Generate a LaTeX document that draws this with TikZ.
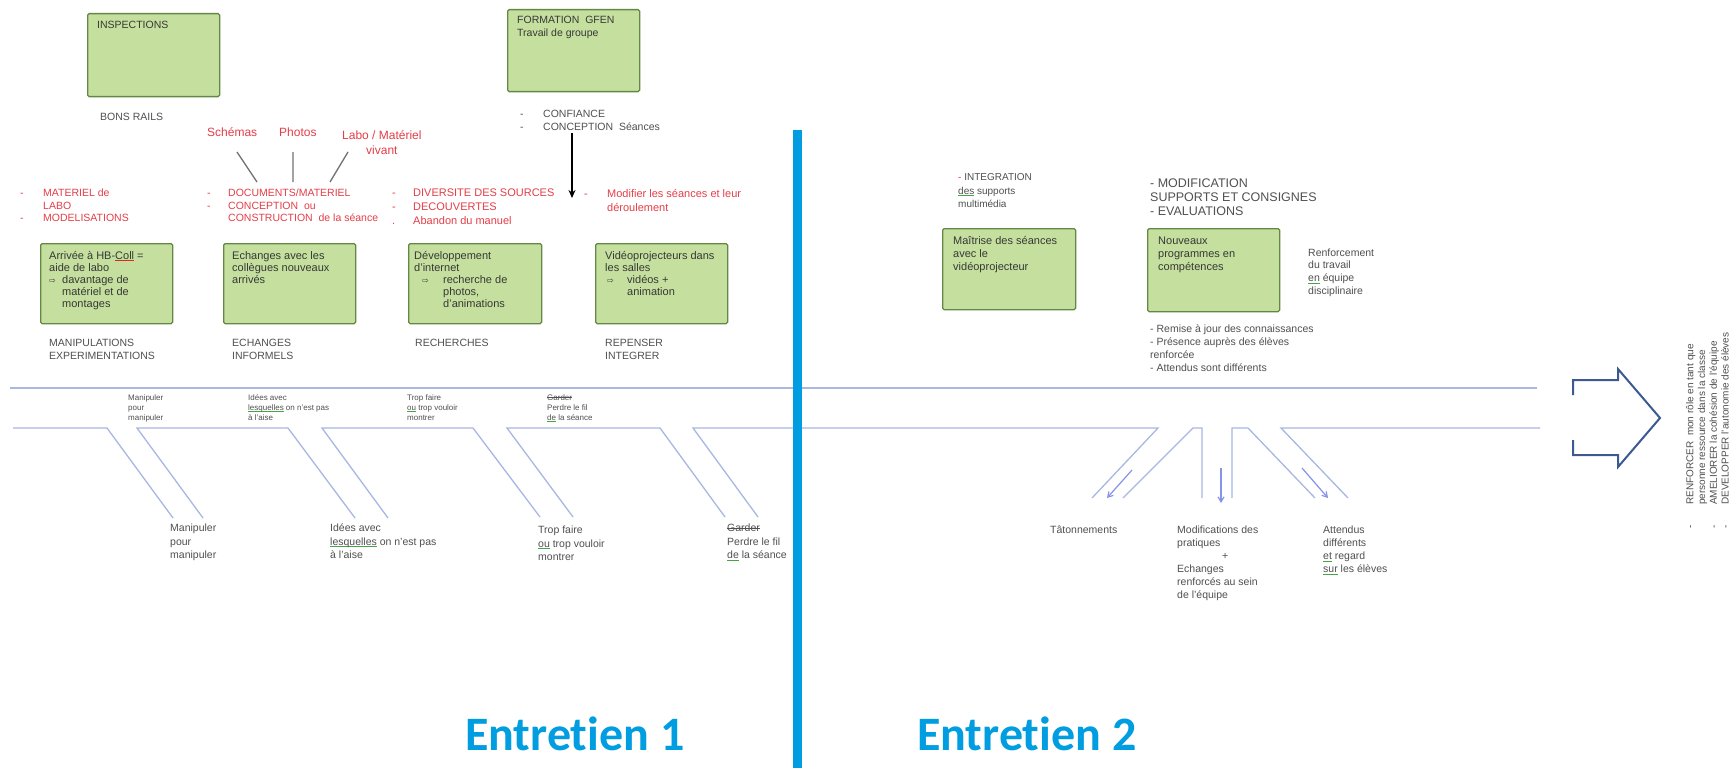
\documentclass[tikz,border=0pt]{standalone}
\usepackage{fontspec}
\setmainfont{Liberation Sans}
\newfontfamily\calib[Ligatures={NoCommon,NoContextual}]{Carlito}
\newfontfamily\djv{DejaVu Sans}
\usetikzlibrary{arrows.meta}
\definecolor{tdark}{RGB}{55,55,55}
\definecolor{tlab}{RGB}{80,80,80}
\definecolor{tred}{RGB}{228,62,72}
\definecolor{gfill}{RGB}{197,224,158}
\definecolor{gborder}{RGB}{100,135,70}
\definecolor{bone}{RGB}{168,184,226}
\definecolor{barrow}{RGB}{60,90,145}
\definecolor{cyanb}{RGB}{0,158,224}
\definecolor{ulgreen}{RGB}{70,165,70}
\definecolor{ulred}{RGB}{220,40,40}
\definecolor{conn}{RGB}{115,115,115}
\newcommand\fsz[2]{\fontsize{#1}{#2}\selectfont}
\newcommand\harr{{\djv\fontsize{8}{8}\selectfont ⇨}}
\newlength\strklen
\newcommand\gul[1]{\settowidth{\strklen}{#1}\rlap{\color{ulgreen}\rule[-0.17em]{\strklen}{0.7pt}}#1}
\newcommand\rul[1]{\settowidth{\strklen}{#1}\rlap{\color{ulred}\rule[-0.17em]{\strklen}{0.7pt}}#1}
\newcommand\strk[1]{\settowidth{\strklen}{#1}\rlap{\rule[0.3em]{\strklen}{0.6pt}}#1}
\begin{document}
\begin{tikzpicture}[x=1pt,y=-1pt,
  txt/.style={anchor=north west,inner sep=0pt,align=left,text=tdark},
  lab/.style={txt,text=tlab},
  redtxt/.style={txt,text=tred},
  gbox/.style={draw=gborder,fill=gfill,line width=1.3pt,rounded corners=1.5pt,inner sep=0pt,anchor=north west},
  bonel/.style={draw=bone,line width=1.3pt},
  smallarr/.style={draw=bone!80!blue,line width=1.2pt,-{Straight Barb[length=5pt,width=6pt]}},
  entre/.style={anchor=base west,inner sep=0pt,text=cyanb,font={\calib\bfseries\fontsize{48}{48}\selectfont}}
  ]
\useasboundingbox (0,0) rectangle (1733,768);
\fill[white] (0,0) rectangle (1733,768);

% ---------- green boxes ----------
\node[gbox,minimum width=132pt,minimum height=83pt] (bInsp) at (87,13) {};
\node[gbox,minimum width=132pt,minimum height=82pt] (bForm) at (507,9) {};
\node[gbox,minimum width=132pt,minimum height=80pt] (bArr) at (40,243) {};
\node[gbox,minimum width=132pt,minimum height=80pt] (bEch) at (223,243) {};
\node[gbox,minimum width=133pt,minimum height=80pt] (bDev) at (408,243) {};
\node[gbox,minimum width=132pt,minimum height=80pt] (bVid) at (595,243) {};
\node[gbox,minimum width=133pt,minimum height=81pt] (bMai) at (942,228) {};
\node[gbox,minimum width=132pt,minimum height=83pt] (bNouv) at (1147,228) {};

% ---------- box texts ----------
\node[txt,font=\fsz{10.5}{12.5}] (tInsp) at (97,20) {\strut INSPECTIONS};
\node[txt,font=\fsz{10.5}{13}] (tForm) at (517,14.7) {\strut FORMATION\ \ GFEN\\Travail de groupe};
\node[txt,font=\fsz{11}{12}] (tArr) at (49,250.6) {\strut Arrivée à HB-\rul{Coll} =\\aide de labo\\\makebox[13pt][l]{\harr}davantage de\\\hspace*{13pt}matériel et de\\\hspace*{13pt}montages};
\node[txt,font=\fsz{11}{12}] (tEch) at (232,250.6) {\strut Echanges avec les\\collègues nouveaux\\arrivés};
\node[txt,font=\fsz{11}{12}] (tDev) at (414,250.6) {\strut Développement\\d'internet\\\makebox[29pt][l]{\hspace*{8pt}\harr}recherche de\\\hspace*{29pt}photos,\\\hspace*{29pt}d'animations};
\node[txt,font=\fsz{11}{12}] (tVid) at (605,250.6) {\strut Vidéoprojecteurs dans\\les salles\\\makebox[22pt][l]{\hspace*{2pt}\harr}vidéos +\\\hspace*{22pt}animation};
\node[txt,font=\fsz{11}{13}] (tMai) at (953,235) {\strut Maîtrise des séances\\avec le\\vidéoprojecteur};
\node[txt,font=\fsz{11}{13}] (tNouv) at (1158,235) {\strut Nouveaux\\programmes en\\compétences};

% ---------- labels ----------
\node[lab,font=\fsz{10.5}{12.5}] (lBons) at (100,112) {\strut BONS RAILS};
\node[lab,font=\fsz{10.5}{12.5}] (lMan) at (49,338) {\strut MANIPULATIONS\\EXPERIMENTATIONS};
\node[lab,font=\fsz{10.5}{12.5}] (lEch) at (232,338) {\strut ECHANGES\\INFORMELS};
\node[lab,font=\fsz{10.5}{12.5}] (lRech) at (415,338) {\strut RECHERCHES};
\node[lab,font=\fsz{10.5}{12.5}] (lRep) at (605,338) {\strut REPENSER\\INTEGRER};
\node[lab,font=\fsz{10.5}{13}] (lConf) at (520,107.7) {\strut\makebox[23pt][l]{-}CONFIANCE\\\makebox[23pt][l]{-}CONCEPTION\ \ Séances};

% ---------- red texts ----------
\node[redtxt,font=\fsz{12}{15}] (sch) at (207,126) {\strut Schémas};
\node[redtxt,font=\fsz{12}{15}] (pho) at (279,126) {\strut Photos};
\node[redtxt,font=\fsz{12}{15},align=center] (labo) at (342,129) {\strut Labo / Matériel\\vivant};
\node[redtxt,font=\fsz{10.5}{12.5}] (l1) at (20,188) {\strut\makebox[23pt][l]{-}MATERIEL de\\\hspace*{23pt}LABO\\\makebox[23pt][l]{-}MODELISATIONS};
\node[redtxt,font=\fsz{10.5}{12.5}] (l2) at (207,188) {\strut\makebox[21pt][l]{-}DOCUMENTS/MATERIEL\\\makebox[21pt][l]{-}CONCEPTION\ \ ou\\\hspace*{21pt}CONSTRUCTION\ \ de la séance};
\node[redtxt,font=\fsz{11}{14}] (l3) at (392,186.5) {\strut\makebox[21pt][l]{-}DIVERSITE DES SOURCES\\\makebox[21pt][l]{-}DECOUVERTES\\\makebox[21pt][l]{.}Abandon du manuel};
\node[redtxt,font=\fsz{11}{14}] (l4) at (584,187) {\strut\makebox[23pt][l]{-}Modifier les séances et leur\\\hspace*{23pt}déroulement};

% connectors labels -> documents
\coordinate (c1a) at (237,152); \coordinate (c1b) at (257,182);
\coordinate (c2a) at (293,152); \coordinate (c2b) at (293,182);
\coordinate (c3a) at (348,152); \coordinate (c3b) at (330,182);
\draw[conn,line width=1.3pt] (c1a) -- (c1b) (c2a) -- (c2b) (c3a) -- (c3b);

% black arrow
\coordinate (ka) at (572,133); \coordinate (kb) at (572,198);
\draw[black,line width=1.6pt,-{Stealth[length=8pt,width=7pt]}] (ka) -- (kb);

% ---------- right-hand texts ----------
\node[lab,font=\fsz{10}{13.5}] (lInt) at (958,171) {\strut{\color{tred}-} INTEGRATION\\\gul{des} supports\\multimédia};
\node[lab,font=\fsz{12.5}{14}] (lMod) at (1150,177) {\strut - MODIFICATION\\SUPPORTS ET CONSIGNES\\- EVALUATIONS};
\node[lab,font=\fsz{10.5}{12.7}] (lRenf) at (1308,247) {\strut Renforcement\\du travail\\\gul{en} équipe\\disciplinaire};
\node[lab,font=\fsz{10.5}{13}] (lRem) at (1150,323) {\strut - Remise à jour des connaissances\\- Présence auprès des élèves\\renforcée\\- Attendus sont différents};

% ---------- fishbone ----------
\draw[bonel] (10,388) -- (1537,388);
\draw[bonel] (13,428) -- (107,428) -- (173,518);
\draw[bonel] (203,518) -- (137,428) -- (288,428) -- (355,518);
\draw[bonel] (388,518) -- (322,428) -- (473,428) -- (540,517);
\draw[bonel] (573,517) -- (507,428) -- (660,428) -- (725,517);
\draw[bonel] (758,517) -- (693,428) -- (1158,428) -- (1092,498);
\draw[bonel] (1123,498) -- (1193,428) -- (1202,428) -- (1202,498);
\draw[bonel] (1232,498) -- (1232,428) -- (1248,428) -- (1315,498);
\draw[bonel] (1348,498) -- (1281,428) -- (1540,428);
\coordinate (a1s) at (1132,470); \coordinate (a1e) at (1107,498);
\coordinate (a2s) at (1221,468); \coordinate (a2e) at (1221,503);
\coordinate (a3s) at (1302,468); \coordinate (a3e) at (1328,498);
\draw[smallarr] (a1s) -- (a1e);
\draw[smallarr] (a2s) -- (a2e);
\draw[smallarr] (a3s) -- (a3e);

% small labels between lines
\node[lab,font=\fsz{8}{10}] (s1) at (128,393) {\strut Manipuler\\pour\\manipuler};
\node[lab,font=\fsz{8}{10}] (s2) at (248,393) {\strut Idées avec\\\gul{lesquelles} on n'est pas\\à l'aise};
\node[lab,font=\fsz{8}{10}] (s3) at (407,393) {\strut Trop faire\\\gul{ou} trop vouloir\\montrer};
\node[lab,font=\fsz{8}{10}] (s4) at (547,393) {\strut\strk{Garder}\\Perdre le fil\\\gul{de} la séance};

% large labels under bones
\node[lab,font=\fsz{10.5}{13.5}] (b1) at (170,522) {\strut Manipuler\\pour\\manipuler};
\node[lab,font=\fsz{10.5}{13.5}] (b2) at (330,522) {\strut Idées avec\\\gul{lesquelles} on n'est pas\\à l'aise};
\node[lab,font=\fsz{10.5}{13.5}] (b3) at (538,524) {\strut Trop faire\\\gul{ou} trop vouloir\\montrer};
\node[lab,font=\fsz{10.5}{13.5}] (b4) at (727,522) {\strut\strk{Garder}\\Perdre le fil\\\gul{de} la séance};
\node[lab,font=\fsz{10.5}{13}] (r1) at (1050,524) {\strut Tâtonnements};
\node[lab,font=\fsz{10.5}{13}] (r2) at (1177,524.5) {\strut Modifications des\\pratiques\\\hspace*{45pt}+\\Echanges\\renforcés au sein\\de l'équipe};
\node[lab,font=\fsz{10.5}{13}] (r3) at (1323,524.5) {\strut Attendus\\différents\\\gul{et} regard\\\gul{sur} les élèves};

% big outlined arrow
\draw[barrow,line width=2pt,line join=miter] (1573,395) -- (1573,380) -- (1618,380) -- (1618,369) -- (1660,418) -- (1618,467) -- (1618,455) -- (1573,455) -- (1573,440);

% rotated text
\node[lab,font=\fsz{10}{11.7},rotate=90] (rot) at (1685,529) {\strut\makebox[24pt][l]{-}RENFORCER\ \ mon rôle en tant que\\\hspace*{24pt}personne ressource dans la classe\\\makebox[24pt][l]{-}AMELIORER la cohésion de l'équipe\\\makebox[24pt][l]{-}DEVELOPPER l'autonomie des élèves};

% divider and titles
\fill[cyanb] (793,130) rectangle (802,768);
\node[entre] (e1) at (465,750) {Entretien 1};
\node[entre] (e2) at (917,750) {Entretien 2};
\end{tikzpicture}
\end{document}
